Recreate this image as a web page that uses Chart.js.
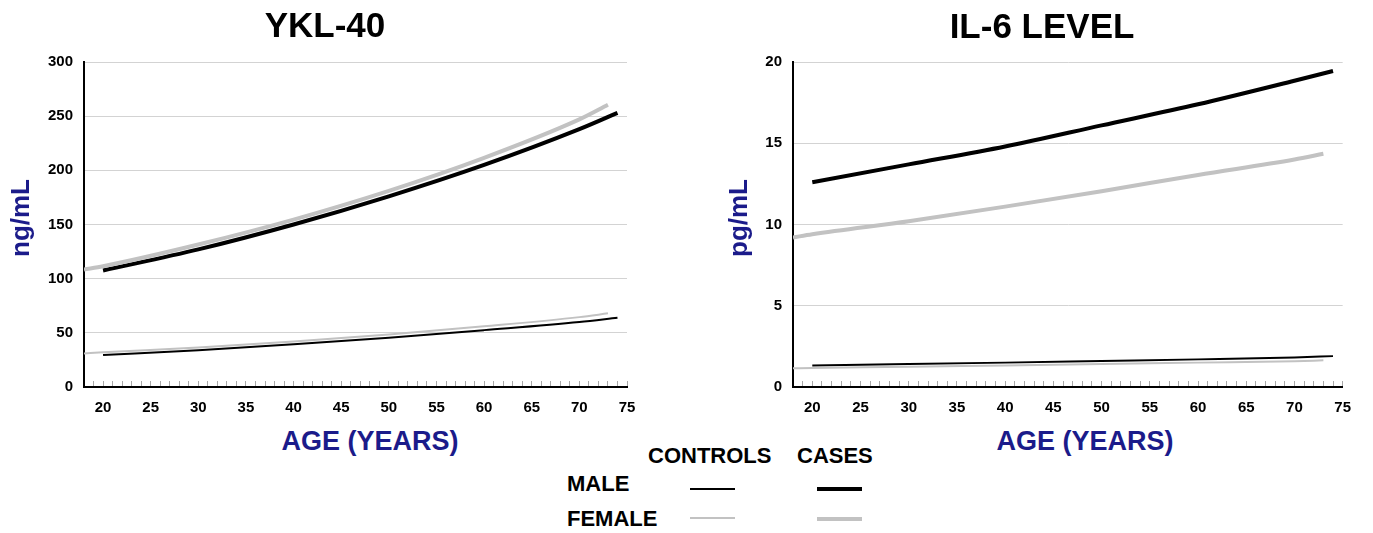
<!DOCTYPE html>
<html>
<head>
<meta charset="utf-8">
<script src="https://cdn.jsdelivr.net/npm/chart.js@4.4.1/dist/chart.umd.min.js"></script>
<style>
  body { margin: 0; background: #fff; }
  #page { position: relative; width: 1373px; height: 533px; overflow: hidden;
          font-family: "Liberation Sans", Arial, sans-serif; font-weight: bold; }
  #page canvas { position: absolute; top: 0; }
  .txt { position: absolute; white-space: nowrap; line-height: 1; }
  .title { font-size: 35px; color: #000; transform: translateX(-50%); }
  .xtitle { font-size: 27px; color: #1b1b8a; transform: translateX(-50%); }
  .ytitle { font-size: 26px; color: #1b1b8a; transform: translate(-50%, -50%) rotate(-90deg); }
  .leg { font-size: 22px; color: #000; }
  .swatch { position: absolute; height: 0; width: 45px; }
</style>
</head>
<body>
<div id="page">
  <canvas id="ykl" width="660" height="420" style="left:0"></canvas>
  <canvas id="il6" width="660" height="420" style="left:709px"></canvas>

  <div class="txt title" style="left:325px; top:7px">YKL-40</div>
  <div class="txt title" style="left:1042px; top:8px">IL-6 LEVEL</div>

  <div class="txt ytitle" style="left:20px; top:218px">ng/mL</div>
  <div class="txt ytitle" style="left:738px; top:218px">pg/mL</div>

  <div class="txt xtitle" style="left:370px; top:428px">AGE (YEARS)</div>
  <div class="txt xtitle" style="left:1085px; top:428px">AGE (YEARS)</div>

  <!-- legend -->
  <div class="txt leg" style="left:648px; top:445px">CONTROLS</div>
  <div class="txt leg" style="left:797px; top:445px">CASES</div>
  <div class="txt leg" style="left:567px; top:473px">MALE</div>
  <div class="txt leg" style="left:567px; top:508px">FEMALE</div>
  <div class="swatch" style="left:690px; top:488px; border-top:2px solid #000"></div>
  <div class="swatch" style="left:817px; top:487px; border-top:4px solid #000"></div>
  <div class="swatch" style="left:690px; top:517px; border-top:2px solid #c2c2c2"></div>
  <div class="swatch" style="left:817px; top:517px; border-top:4px solid #c2c2c2"></div>
</div>

<script>
const maleAges = [20, 30, 40, 50, 60, 70, 74];
const femaleAges = [18, 20, 30, 40, 50, 60, 70, 73];

// YKL-40, ng/mL
const yklCaseMale = [107.5, 127, 150, 176, 205, 238, 253];
const yklCaseFemale = [108.5, 111.5, 131.5, 154.5, 181, 211.5, 247, 260.5];
const yklCtrlMale = [29.5, 34, 39.5, 45.5, 52.5, 60, 64];
const yklCtrlFemale = [31, 32, 36.5, 42, 48.5, 56, 64.5, 68];

// IL-6, pg/mL
const il6CaseMale = [12.6, 13.7, 14.8, 16.1, 17.4, 18.85, 19.45];
const il6CaseFemale = [9.2, 9.4, 10.2, 11.1, 12.05, 13.05, 14.0, 14.35];
const il6CtrlMale = [1.33, 1.41, 1.5, 1.6, 1.7, 1.82, 1.9];
const il6CtrlFemale = [1.15, 1.17, 1.24, 1.33, 1.41, 1.5, 1.59, 1.64];

const FONT = '"Liberation Sans", Arial, sans-serif';
const BLACK = '#000';
const GREY = '#c2c2c2';

function pts(ages, vals) {
  return ages.map((a, i) => ({ x: a, y: vals[i] }));
}

function series(label, ages, vals, color, width) {
  return {
    label: label,
    data: pts(ages, vals),
    borderColor: color,
    borderWidth: width,
    pointRadius: 0,
    fill: false,
    cubicInterpolationMode: 'monotone'
  };
}

function options(yMax, yStep, rightPad) {
  return {
    responsive: false,
    animation: false,
    layout: { padding: { top: 62, right: rightPad, bottom: 0, left: 0 } },
    plugins: { legend: { display: false }, tooltip: { enabled: false } },
    scales: {
      x: {
        type: 'linear',
        min: 18,
        max: 75,
        afterFit: (scale) => { scale.height = 33; },
        border: { color: BLACK, width: 2 },
        grid: { drawOnChartArea: false, drawTicks: true, tickLength: -6, color: '#a8a8a8', lineWidth: 1 },
        ticks: {
          stepSize: 1,
          autoSkip: false,
          maxRotation: 0,
          padding: 18,
          color: BLACK,
          font: { family: FONT, size: 15, weight: 'bold' },
          callback: (v) => (v % 5 === 0 ? v : '')
        }
      },
      y: {
        min: 0,
        max: yMax,
        afterFit: (scale) => { scale.width = 84; },
        border: { color: BLACK, width: 2 },
        grid: { color: '#d3d3d3', lineWidth: 1, drawTicks: false },
        ticks: {
          stepSize: yStep,
          padding: 11,
          color: BLACK,
          font: { family: FONT, size: 15, weight: 'bold' }
        }
      }
    }
  };
}

new Chart(document.getElementById('ykl'), {
  type: 'line',
  data: {
    datasets: [
      series('Controls female', femaleAges, yklCtrlFemale, GREY, 2),
      series('Controls male', maleAges, yklCtrlMale, BLACK, 2),
      series('Cases female', femaleAges, yklCaseFemale, GREY, 4),
      series('Cases male', maleAges, yklCaseMale, BLACK, 4)
    ]
  },
  options: options(300, 50, 33)
});

new Chart(document.getElementById('il6'), {
  type: 'line',
  data: {
    datasets: [
      series('Controls female', femaleAges, il6CtrlFemale, GREY, 2),
      series('Controls male', maleAges, il6CtrlMale, BLACK, 2),
      series('Cases female', femaleAges, il6CaseFemale, GREY, 4),
      series('Cases male', maleAges, il6CaseMale, BLACK, 4)
    ]
  },
  options: options(20, 5, 26)
});
</script>
</body>
</html>
